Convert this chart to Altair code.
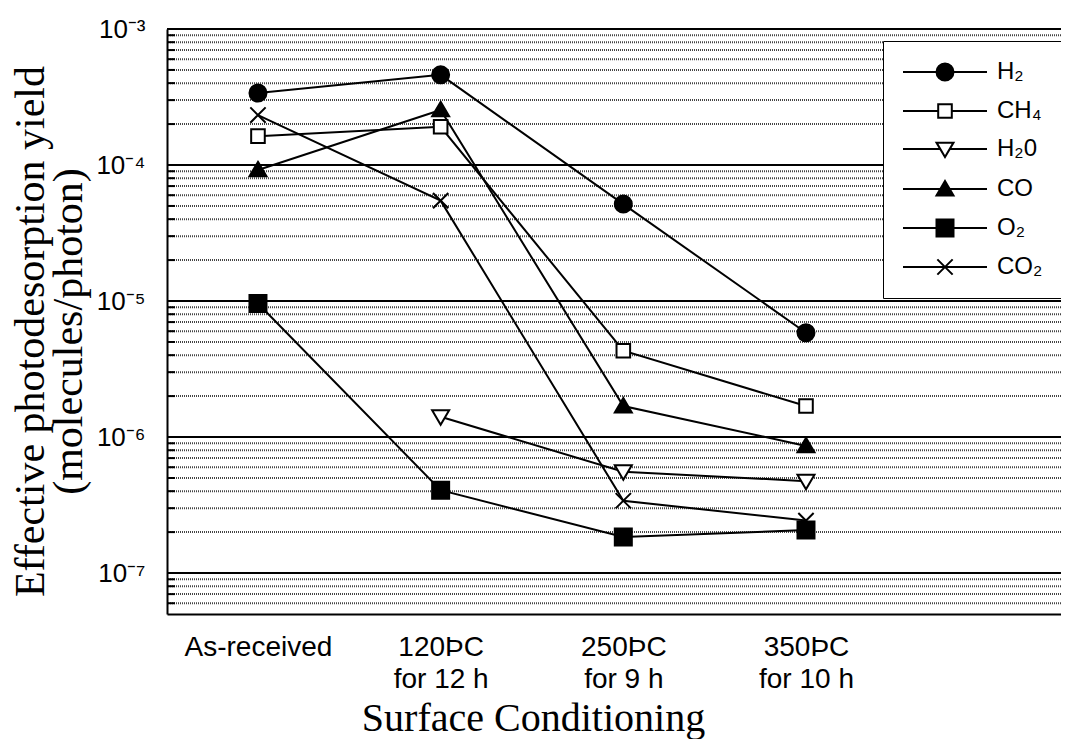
import json
import altair as alt
import pandas as pd

# ---------------- data ----------------
x_positions = [0, 1, 2, 3]
x_label_lines = [["As-received"], ["120ÞC", "for 12 h"], ["250ÞC", "for 9 h"], ["350ÞC", "for 10 h"]]

series = ["H₂", "CH₄", "H₂0", "CO", "O₂", "CO₂"]

h2 = [3.38e-4, 4.6e-4, 5.16e-5, 5.85e-6]
ch4 = [1.63e-4, 1.91e-4, 4.31e-6, 1.69e-6]
h2o = [None, 1.41e-6, 5.56e-7, 4.74e-7]
co = [9.2e-5, 2.54e-4, 1.69e-6, 8.6e-7]
o2 = [9.6e-6, 4.07e-7, 1.84e-7, 2.07e-7]
co2 = [2.33e-4, 5.47e-5, 3.4e-7, 2.43e-7]

major_ticks = [1e-3, 1e-4, 1e-5, 1e-6, 1e-7]
major_labels = ["10⁻³", "10⁻⁴", "10⁻⁵", "10⁻⁶", "10⁻⁷"]
minor_ticks = [m * 10.0 ** e for e in range(-8, -3) for m in range(2, 10)
               if 5.01e-8 < m * 10.0 ** e < 1e-3]

rows = []
for name, vals in zip(series, [h2, ch4, h2o, co, o2, co2]):
    for xi, v in zip(x_positions, vals):
        if v is not None:
            rows.append({"series": name, "xi": xi, "value": v})
df = pd.DataFrame(rows)

# ---------------- styles ----------------
marker_paths = [
    "M1,0A1,1,0,1,1,-1,0A1,1,0,1,1,1,0Z",          # filled circle
    "M-0.8,-0.8H0.8V0.8H-0.8Z",                     # open square
    "M-1,-0.75H1L0,0.95Z",                          # open triangle down
    "M0,-0.95L1,0.75H-1Z",                          # filled triangle up
    "M-1,-1H1V1H-1Z",                               # filled square
    "M-0.9,-0.9L0.9,0.9M-0.9,0.9L0.9,-0.9",         # x
]
L = 4.94
legend_paths = [
    f"M-{L},0H{L}M1,0A1,1,0,1,1,-1,0A1,1,0,1,1,1,0Z",
    f"M-{L},0H-0.8M0.8,0H{L}M-0.8,-0.8H0.8V0.8H-0.8Z",
    f"M-{L},0H-0.53M0.53,0H{L}M-1,-0.75H1L0,0.95Z",
    f"M-{L},0H{L}M0,-0.95L1,0.75H-1Z",
    f"M-{L},0H{L}M-1,-1H1V1H-1Z",
    f"M-{L},0H{L}M-0.9,-0.9L0.9,0.9M-0.9,0.9L0.9,-0.9",
]
fills = ["black", "white", "white", "black", "black", "white"]
strokes = ["black"] * len(series)

yscale = alt.Scale(type="log", domain=[5e-8, 1e-3], nice=False)
xscale = alt.Scale(domain=[-0.498, 4.396], nice=False, zero=False)

y_label_expr = " : ".join(
    f"datum.value > {v * 0.5} ? '{lab}'" for v, lab in zip(major_ticks, major_labels)
) + " : ''"
x_label_expr = json.dumps(x_label_lines, ensure_ascii=False) + "[datum.value]"

yaxis = alt.Axis(
    values=major_ticks, labelExpr=y_label_expr,
    labelFont="Liberation Sans", labelFontSize=26, labelColor="black",
    labelPadding=22, ticks=False, grid=False,
    domainColor="black", domainWidth=2,
    title=["Effective photodesorption yield", "(molecules/photon)"],
    titleFont="Liberation Serif", titleFontSize=42, titleFontWeight="normal",
    titleColor="black", titleAngle=270, titleAlign="center", titleBaseline="middle",
    titleX=-137, titleY=302, titleLineHeight=38,
)
xaxis = alt.Axis(
    values=x_positions, labelExpr=x_label_expr,
    labelFont="Liberation Sans", labelFontSize=28, labelColor="black",
    labelBaseline="top", labelLineHeight=32, labelPadding=19, labelAlign="center",
    labelFlush=False, labelOverlap=False,
    ticks=False, grid=False, domainColor="black", domainWidth=2,
    title="Surface Conditioning", titleFont="Liberation Serif", titleFontSize=40,
    titleFontWeight="normal", titleColor="black", titleX=366, titleY=116,
    titleAlign="center", titleBaseline="alphabetic",
)


def X(field):
    return alt.X(field, scale=xscale, axis=xaxis)


def Y(field):
    return alt.Y(field, scale=yscale, axis=yaxis)


minor_df = pd.DataFrame({"v": minor_ticks})

minor_rules = alt.Chart(minor_df).mark_rule(
    color="#444", strokeWidth=2, strokeDash=[1, 1]
).encode(y=Y("v:Q"))

minor_stubs = alt.Chart(minor_df).mark_rule(color="black", strokeWidth=2).encode(
    y=Y("v:Q"), x=alt.value(0), x2=alt.value(8)
)

major_rules = alt.Chart(pd.DataFrame({"v": major_ticks})).mark_rule(
    color="black", strokeWidth=2
).encode(y=Y("v:Q"))

lines = alt.Chart(df).mark_line(color="black", strokeWidth=2).encode(
    x=X("xi:Q"), y=Y("value:Q"), detail="series:N", order="xi:Q",
)

points = alt.Chart(df).mark_point(
    filled=True, size=289, stroke="black", strokeWidth=2, opacity=1
).encode(
    x=X("xi:Q"), y=Y("value:Q"),
    shape=alt.Shape("series:N", scale=alt.Scale(domain=series, range=marker_paths), legend=None),
    fill=alt.Fill("series:N", scale=alt.Scale(domain=series, range=fills), legend=None),
)

leg = alt.Legend(
    title=None, orient="none", legendX=716, legendY=12,
    padding=19, symbolOffset=31, labelOffset=40, rowPadding=14,
    labelFont="Liberation Sans", labelFontSize=24, labelColor="black",
    strokeColor="black", fillColor="white", cornerRadius=0,
    symbolSize=289, symbolStrokeWidth=2, symbolStrokeColor="black", symbolOpacity=1,
)

legend_layer = alt.Chart(df).transform_filter("datum.value < 0").mark_point(
    filled=True, size=289, strokeWidth=2, opacity=1
).encode(
    x=X("xi:Q"), y=Y("value:Q"),
    shape=alt.Shape("series:N", scale=alt.Scale(domain=series, range=legend_paths), legend=leg),
    fill=alt.Fill("series:N", scale=alt.Scale(domain=series, range=fills), legend=leg),
    stroke=alt.Stroke("series:N", scale=alt.Scale(domain=series, range=strokes), legend=leg),
)

chart = alt.layer(minor_rules, minor_stubs, major_rules, lines, points, legend_layer).resolve_scale(
    shape="independent", fill="independent", stroke="independent"
).properties(
    width=894, height=585,
    padding={"left": 159, "top": 21, "right": 0, "bottom": 125},
    autosize=alt.AutoSizeParams(type="none"),
    background="white",
).configure_view(strokeWidth=0)

chart.save("out.html", embed_options={"renderer": "svg", "actions": False})
